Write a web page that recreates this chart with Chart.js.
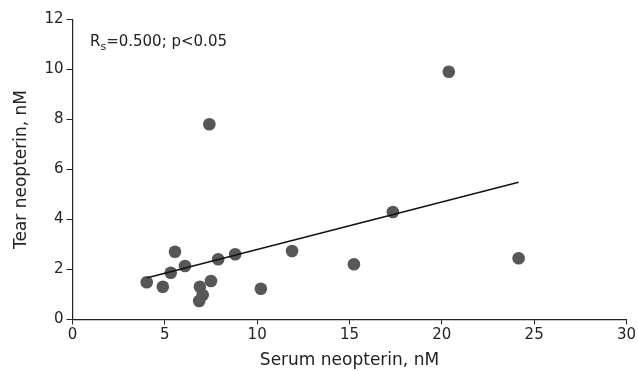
<!DOCTYPE html>
<html>
<head>
<meta charset="utf-8">
<script src="https://cdn.jsdelivr.net/npm/chart.js@4"></script>
<style>
  html, body { margin: 0; padding: 0; background: #fff; }
  #wrap { width: 638px; height: 371px; }
</style>
</head>
<body>
<div id="wrap"><canvas id="chart" width="638" height="371"></canvas></div>
<script>
// --- DATA ---
const serumNeopterin = [4.02, 4.89, 5.55, 5.32, 6.09, 6.90, 7.50, 7.05, 6.86, 7.89, 8.81, 10.2, 11.89, 7.41, 15.24, 17.35, 20.38, 24.16];
const tearNeopterin  = [1.49, 1.31, 2.71, 1.87, 2.14, 1.31, 1.54, 0.98, 0.74, 2.41, 2.61, 1.23, 2.74, 7.81, 2.21, 4.30, 9.91, 2.45];
const fitX = [4.05, 24.16];
const fitY = [1.67, 5.49];
const xTicks = [0, 5, 10, 15, 20, 25, 30];
const yTicks = [0, 2, 4, 6, 8, 10, 12];

const FONT = 'DejaVu Sans';

// R_s annotation, drawn as text with a subscript
const annotation = {
    id: 'annotation',
    afterDraw(chart) {
        const ctx = chart.ctx;
        ctx.save();
        ctx.fillStyle = '#222';
        ctx.textBaseline = 'alphabetic';
        ctx.font = '15px "' + FONT + '"';
        let x = 90, y = 46;
        ctx.fillText('R', x, y);
        x += ctx.measureText('R').width;
        ctx.font = '11px "' + FONT + '"';
        ctx.fillText('s', x, y + 3.5);
        x += ctx.measureText('s').width;
        ctx.font = '15px "' + FONT + '"';
        ctx.fillText('=0.500; p<0.05', x, y);
        ctx.restore();
    }
};

const points = serumNeopterin.map((v, i) => ({x: v, y: tearNeopterin[i]}));
const fitLine = fitX.map((v, i) => ({x: v, y: fitY[i]}));

new Chart(document.getElementById('chart'), {
    type: 'scatter',
    data: {
        datasets: [
            {
                type: 'line',
                data: fitLine,
                borderColor: '#111',
                borderWidth: 1.4,
                pointRadius: 0,
                fill: false,
                order: 0
            },
            {
                data: points,
                backgroundColor: '#575757',
                borderWidth: 0,
                pointRadius: 6.3,
                order: 1
            }
        ]
    },
    options: {
        responsive: false,
        animation: false,
        layout: { padding: { top: 19.5, right: 10.7, left: 0, bottom: 0 } },
        plugins: { legend: { display: false }, tooltip: { enabled: false } },
        scales: {
            x: {
                type: 'linear',
                min: 0, max: 30,
                afterBuildTicks: s => { s.ticks = xTicks.map(v => ({value: v})); },
                afterFit: s => { s.height = 51.5; },
                grid: { drawOnChartArea: false, drawTicks: true, tickLength: 5, color: '#222', lineWidth: 1 },
                border: { display: true, color: '#222', width: 1.2 },
                ticks: { color: '#222', font: { family: FONT, size: 15 }, padding: 2, maxRotation: 0 },
                title: { display: true, text: 'Serum neopterin, nM', color: '#222', font: { family: FONT, size: 17 }, padding: { top: 0, bottom: 0 } }
            },
            y: {
                type: 'linear',
                min: 0, max: 12,
                afterBuildTicks: s => { s.ticks = yTicks.map(v => ({value: v})); },
                afterFit: s => { s.width = 72.5; },
                grid: { drawOnChartArea: false, drawTicks: true, tickLength: 6, color: '#222', lineWidth: 1 },
                border: { display: true, color: '#222', width: 1.2 },
                ticks: { color: '#222', font: { family: FONT, size: 15 }, padding: 3 },
                title: { display: true, text: 'Tear neopterin, nM', color: '#222', font: { family: FONT, size: 17 }, padding: { top: 11.5, bottom: 0 } }
            }
        }
    },
    plugins: [annotation]
});
</script>
</body>
</html>
